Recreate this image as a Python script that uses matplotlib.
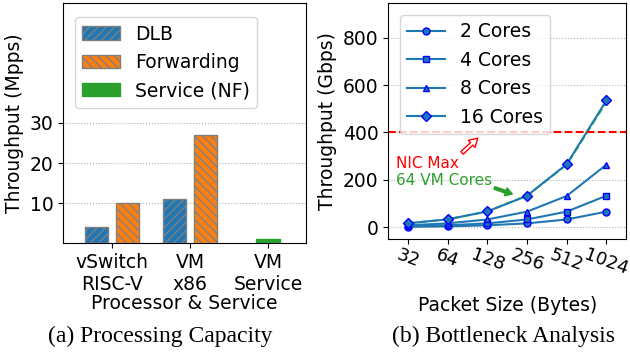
import numpy as np
import matplotlib
matplotlib.use('Agg')
import matplotlib.pyplot as plt

# (a) processing capacity, Mpps
groups = ['vSwitch\nRISC-V', 'VM\nx86', 'VM\nService']
dlb = [4, 11]
forwarding = [10, 27]
service_nf = [1]

# (b) bottleneck analysis, Gbps
pkt_sizes = ['32', '64', '128', '256', '512', '1024']
cores_2 = [2, 4, 8.3, 16.5, 33, 66]
cores_4 = [4, 8.3, 16.5, 33, 66, 133]
cores_8 = [8.3, 16.5, 33, 66, 132, 264]
cores_16 = [16.7, 33.4, 66.8, 133, 266, 535]
vm_64 = [16.7, 33.4, 66.8, 133, 264, 528]
nic_max = 400

fs = 13.5
plt.rcParams['font.family'] = 'DejaVu Sans'
plt.rcParams['font.size'] = fs

fig = plt.figure(figsize=(6.3, 3.58), dpi=100)
ax1 = fig.add_axes([0.1, 0.321, 0.386, 0.671])
ax2 = fig.add_axes([0.616, 0.332, 0.378, 0.659])

# ---- left
x = np.arange(len(groups))
w = 0.3
ax1.bar(x[:2] - 0.2, dlb, w, color='#1f77b4', edgecolor='gray', hatch='////', label='DLB', zorder=3)
ax1.bar(x[:2] + 0.2, forwarding, w, color='#ff7f0e', edgecolor='gray', hatch='\\\\\\\\', label='Forwarding', zorder=3)
ax1.bar(x[2:], service_nf, w, color='#2ca02c', edgecolor='#2ca02c', label='Service (NF)', zorder=3)
ax1.set_xticks(x)
ax1.set_xticklabels(groups, fontsize=fs)
ax1.set_yticks([10, 20, 30])
ax1.tick_params(labelsize=fs)
ax1.set_xlim(-0.63, 2.49)
ax1.set_ylim(0, 60)
ax1.grid(axis='y', linestyle=':', color='gray', alpha=0.6, zorder=0)
ax1.set_ylabel('Throughput (Mpps)', fontsize=fs)
ax1.set_xlabel('Processor & Service', fontsize=fs, labelpad=0)
ax1.legend(loc='upper left', fontsize=fs, bbox_to_anchor=(0.01, 0.98))

# ---- right
xp = np.arange(len(pkt_sizes))
line_kw = dict(color='#1f77b4', markerfacecolor='#1f77b4', markeredgecolor='blue', markersize=5, lw=1.5)
ax2.plot(xp, cores_2, marker='o', label='2 Cores', **line_kw)
ax2.plot(xp, cores_4, marker='s', label='4 Cores', **line_kw)
ax2.plot(xp, cores_8, marker='^', label='8 Cores', **line_kw)
ax2.plot(xp, cores_16, marker='D', label='16 Cores', **line_kw)
ax2.plot(xp, vm_64, linestyle='--', color='limegreen', lw=1.5, zorder=1)
ax2.axhline(nic_max, color='red', linestyle='--', lw=1.5)
ax2.set_xticks(xp)
ax2.set_xticklabels(pkt_sizes, rotation=-20, fontsize=13)
ax2.set_yticks([0, 200, 400, 600, 800])
ax2.tick_params(labelsize=fs)
ax2.tick_params(axis='x', labelsize=13, pad=1)
ax2.set_xlim(-0.5, 5.5)
ax2.set_ylim(-50, 945)
ax2.grid(axis='y', linestyle=':', color='gray', alpha=0.6)
ax2.set_ylabel('Throughput (Gbps)', fontsize=fs)
ax2.set_xlabel('Packet Size (Bytes)', fontsize=fs, labelpad=13)
ax2.legend(loc='upper left', fontsize=fs, bbox_to_anchor=(0.01, 0.99))

ax2.annotate('NIC Max', xy=(1.76, 376), xytext=(-0.29, 271), color='red', fontsize=11,
             va='center', ha='left',
             arrowprops=dict(facecolor='white', edgecolor='red', width=2.5, headwidth=7, headlength=6, shrink=0.0),
             )
ax2.annotate('64 VM Cores', xy=(2.63, 140), xytext=(-0.29, 199), color='#2ca02c', fontsize=11,
             va='center', ha='left')
ax2.annotate('', xy=(2.63, 140), xytext=(2.18, 166),
             arrowprops=dict(facecolor='#2ca02c', edgecolor='#2ca02c', width=2, headwidth=6, headlength=5, shrink=0.0))

fig.text(0.254, 0.06, '(a) Processing Capacity', family='Liberation Serif', fontsize=17, ha='center', va='center')
fig.text(0.8, 0.06, '(b) Bottleneck Analysis', family='Liberation Serif', fontsize=17, ha='center', va='center')

fig.savefig('out.png', dpi=100)
